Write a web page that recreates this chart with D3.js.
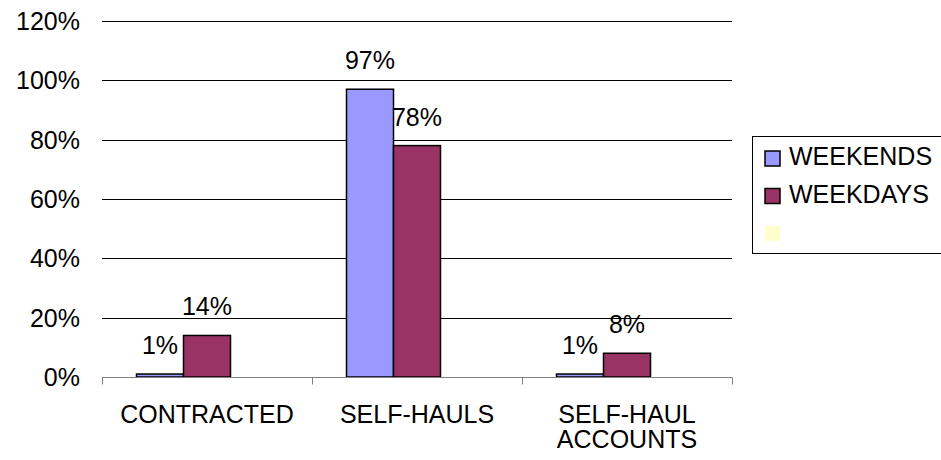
<!DOCTYPE html>
<html>
<head>
<meta charset="utf-8">
<script src="https://cdn.jsdelivr.net/npm/d3@7/dist/d3.min.js"></script>
<style>
  html, body { margin: 0; padding: 0; background: #fff; }
  svg { display: block; font-family: "Liberation Sans", Arial, sans-serif; }
</style>
</head>
<body>
<svg id="chart" width="941" height="460"></svg>
<script>
// ---- data ----
const categories = ["CONTRACTED", "SELF-HAULS", "SELF-HAUL ACCOUNTS"];
const seriesNames = ["WEEKENDS", "WEEKDAYS", ""];
const weekends = [0.01, 0.97, 0.01];
const weekdays = [0.14, 0.78, 0.08];
const third = [null, null, null];
const yTickValues = [0, 0.2, 0.4, 0.6, 0.8, 1.0, 1.2];
const seriesColors = ["#9999FF", "#993366", "#FFFFCC"];

// ---- layout ----
const svg = d3.select("#chart");
const plot = { left: 102, right: 732, top: 21, bottom: 377 };
const fontSize = 25;

const x = d3.scaleBand().domain(categories).range([plot.left, plot.right]).paddingInner(0).paddingOuter(0);
const seriesKeys = seriesNames.map((d, i) => "s" + i);
const xs = d3.scaleBand().domain(seriesKeys).range([0, x.bandwidth()]).paddingInner(0).paddingOuter(0.734);
const y = d3.scaleLinear().domain([0, 1.2]).range([plot.bottom, plot.top]);

// gridlines
svg.append("g").selectAll("line").data(yTickValues.filter(d => d > 0)).join("line")
  .attr("x1", plot.left).attr("x2", plot.right)
  .attr("y1", d => Math.round(y(d)) + 0.5).attr("y2", d => Math.round(y(d)) + 0.5)
  .attr("stroke", "#000").attr("stroke-width", 1);

// y axis labels
const yAxis = d3.axisLeft(y).tickValues(yTickValues).tickFormat(d3.format(".0%")).tickSize(0).tickPadding(22);
const gy = svg.append("g").attr("transform", `translate(${plot.left},0)`).call(yAxis);
gy.select(".domain").remove();
gy.selectAll("text").attr("font-size", fontSize).attr("fill", "#000")
  .attr("font-family", "Liberation Sans, Arial, sans-serif").attr("dy", "0.34em");

// bars
const rows = categories.map((c, i) => ({ cat: c, vals: [weekends[i], weekdays[i], third[i]] }));
const groups = svg.append("g").selectAll("g").data(rows).join("g")
  .attr("transform", d => `translate(${x(d.cat)},0)`);
const cells = d => d.vals.map((v, j) => ({ s: seriesKeys[j], v, j })).filter(e => e.v != null);
groups.selectAll("rect").data(cells).join("rect")
  .attr("x", d => xs(d.s)).attr("width", xs.bandwidth())
  .attr("y", d => y(d.v)).attr("height", d => y(0) - y(d.v))
  .attr("fill", d => seriesColors[d.j]).attr("stroke", "#000").attr("stroke-width", 1.5);
groups.selectAll("text").data(cells).join("text")
  .attr("x", d => xs(d.s) + xs.bandwidth() / 2).attr("y", d => y(d.v) - 20)
  .attr("text-anchor", "middle").attr("font-size", fontSize).attr("fill", "#000")
  .text(d => d3.format(".0%")(d.v));

// x axis
const xAxis = d3.axisBottom(x).tickSize(0).tickPadding(0);
const gx = svg.append("g").attr("transform", `translate(0,${plot.bottom + 0.5})`).call(xAxis);
gx.select(".domain").attr("stroke", "#808080").attr("d", `M${plot.left},0H${plot.right}`);
gx.selectAll(".tick line").remove();
gx.selectAll(".sep").data(d3.range(categories.length + 1)).join("line").attr("class", "sep")
  .attr("x1", i => plot.left + i * x.step() + 0.5).attr("x2", i => plot.left + i * x.step() + 0.5)
  .attr("y1", 0).attr("y2", 7).attr("stroke", "#808080");
gx.selectAll(".tick text").attr("font-size", fontSize).attr("fill", "#000")
  .attr("font-family", "Liberation Sans, Arial, sans-serif").attr("dy", null).attr("y", 45)
  .each(function (d) {
    const t = d3.select(this);
    t.text(null);
    const words = d.split(" ");
    let lines = [], cur = [];
    words.forEach(w => {
      cur.push(w);
      t.text(cur.join(" "));
      if (this.getComputedTextLength() > x.bandwidth() - 10 && cur.length > 1) {
        cur.pop(); lines.push(cur.join(" ")); cur = [w];
      }
    });
    lines.push(cur.join(" "));
    t.text(null);
    lines.forEach((ln, k) => t.append("tspan").attr("x", 0).attr("y", 45 + k * 25).text(ln));
  });

// legend
const lg = svg.append("g");
lg.append("rect").attr("x", 752.5).attr("y", 136.5).attr("width", 200).attr("height", 117)
  .attr("fill", "#fff").attr("stroke", "#000").attr("stroke-width", 1);
const items = lg.selectAll("g.item").data(seriesNames).join("g").attr("class", "item")
  .attr("transform", (d, i) => `translate(765,${151 + i * 37.5})`);
items.append("rect").attr("width", 15).attr("height", 15)
  .attr("fill", (d, i) => seriesColors[i])
  .attr("stroke", (d, i) => i < 2 ? "#000" : "none").attr("stroke-width", 1.5);
items.append("text").attr("x", 24).attr("y", 14).attr("font-size", fontSize).attr("fill", "#000")
  .text(d => d);
</script>
</body>
</html>
